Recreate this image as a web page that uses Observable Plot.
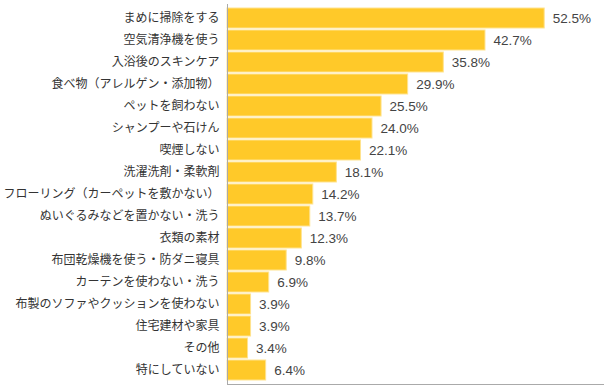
<!DOCTYPE html>
<html>
<head>
<meta charset="utf-8">
<script src="https://cdn.jsdelivr.net/npm/d3@7"></script>
<script src="https://cdn.jsdelivr.net/npm/@observablehq/plot@0.6"></script>
<style>
  html, body { margin: 0; padding: 0; background: #fff; }
  #chart svg { display: block; }
</style>
</head>
<body>
<div id="chart"></div>
<script>
const categories = [
  "まめに掃除をする",
  "空気清浄機を使う",
  "入浴後のスキンケア",
  "食べ物（アレルゲン・添加物）",
  "ペットを飼わない",
  "シャンプーや石けん",
  "喫煙しない",
  "洗濯洗剤・柔軟剤",
  "フローリング（カーペットを敷かない）",
  "ぬいぐるみなどを置かない・洗う",
  "衣類の素材",
  "布団乾燥機を使う・防ダニ寝具",
  "カーテンを使わない・洗う",
  "布製のソファやクッションを使わない",
  "住宅建材や家具",
  "その他",
  "特にしていない"
];
const values = [52.5, 42.7, 35.8, 29.9, 25.5, 24.0, 22.1, 18.1, 14.2, 13.7, 12.3, 9.8, 6.9, 3.9, 3.9, 3.4, 6.4];

const data = categories.map((c, i) => ({category: c, value: values[i]}));

const chart = Plot.plot({
  width: 604,
  height: 391,
  marginLeft: 227,
  marginRight: 0,
  marginTop: 4,
  marginBottom: 7,
  style: {fontFamily: "'Noto Sans CJK JP', sans-serif", fontSize: "12px", color: "#333", background: "#fff"},
  x: {domain: [0, 62.4], axis: null},
  y: {domain: categories, padding: 0.1, label: null},
  marks: [
    Plot.barX(data, {x: "value", y: "category", fill: "#FFC929", stroke: "#FFE38F", strokeWidth: 1}),
    Plot.text(data, {
      x: "value", y: "category",
      text: d => d.value.toFixed(1) + "%",
      textAnchor: "start", dx: 8, dy: 0.5,
      fill: "#444", fontSize: 13.5,
      fontFamily: "'Liberation Sans', 'Noto Sans', sans-serif"
    }),
    Plot.axisY({tickSize: 0, tickPadding: 8, label: null, fontSize: 12, fill: "#333"}),
    Plot.ruleX([0], {stroke: "#aaa", strokeWidth: 1}),
    Plot.frame({anchor: "bottom", stroke: "#aaa", strokeWidth: 1})
  ]
});
document.getElementById("chart").appendChild(chart);
</script>
</body>
</html>
